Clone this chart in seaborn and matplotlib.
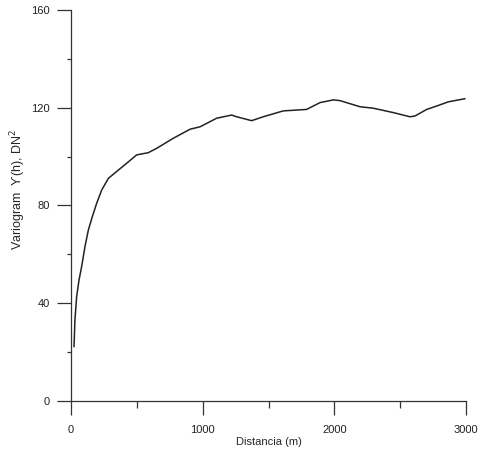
import matplotlib
matplotlib.use("Agg")
import matplotlib.pyplot as plt
from matplotlib.ticker import MultipleLocator
import seaborn as sns
import pandas as pd

distancia = [23, 30, 43, 61, 81, 106, 132, 162, 195, 233, 284, 360, 430, 499,
             587, 651, 777, 904, 980, 1106, 1220, 1258, 1372, 1460, 1612,
             1789, 1891, 1992, 2043, 2195, 2296, 2448, 2574, 2612, 2701,
             2777, 2865, 2992]
gamma = [22.2, 33.1, 42.7, 49.5, 55.0, 63.1, 70.0, 75.4, 80.9, 86.3, 91.1,
         94.5, 97.6, 100.7, 101.6, 103.4, 107.5, 111.2, 112.2, 115.7, 117.0,
         116.3, 114.7, 116.3, 118.7, 119.3, 122.1, 123.2, 122.9, 120.4, 119.8,
         118.0, 116.3, 116.6, 119.3, 120.7, 122.4, 123.7]

data = pd.DataFrame({"h": distancia, "gamma": gamma})

sns.set_style("ticks")
plt.rcParams["font.family"] = ["Liberation Sans", "DejaVu Sans"]

fig = plt.figure(figsize=(4.78, 4.53), dpi=100)
ax = fig.add_axes([0.1485, 0.1148, 0.8265, 0.8632])

sns.lineplot(x="h", y="gamma", data=data, color="#222222", linewidth=1.1, ax=ax)

ax.set_xlim(0, 3000)
ax.set_ylim(0, 160)
ax.xaxis.set_major_locator(MultipleLocator(1000))
ax.xaxis.set_minor_locator(MultipleLocator(500))
ax.yaxis.set_major_locator(MultipleLocator(40))
ax.yaxis.set_minor_locator(MultipleLocator(20))

ax.tick_params(axis="both", which="major", length=10, width=0.9, colors="#333333",
               labelsize=8, labelcolor="#222222")
ax.tick_params(axis="x", which="major", pad=7)
ax.tick_params(axis="y", which="major", pad=5)
ax.tick_params(axis="x", which="minor", length=5, width=0.9, color="#333333")
ax.tick_params(axis="y", which="minor", length=3, width=0.9, color="#333333")

for side in ["top", "right"]:
    ax.spines[side].set_visible(False)
for side in ["left", "bottom"]:
    ax.spines[side].set_color("#333333")
    ax.spines[side].set_linewidth(0.9)

ax.set_xlabel("Distancia (m)", fontsize=8, labelpad=2)
ax.set_ylabel("Variogram  ϒ(h), DN$^2$", fontsize=9)
ax.yaxis.set_label_coords(-0.11, 0.54)

fig.savefig("out.png", dpi=100, facecolor="white")
